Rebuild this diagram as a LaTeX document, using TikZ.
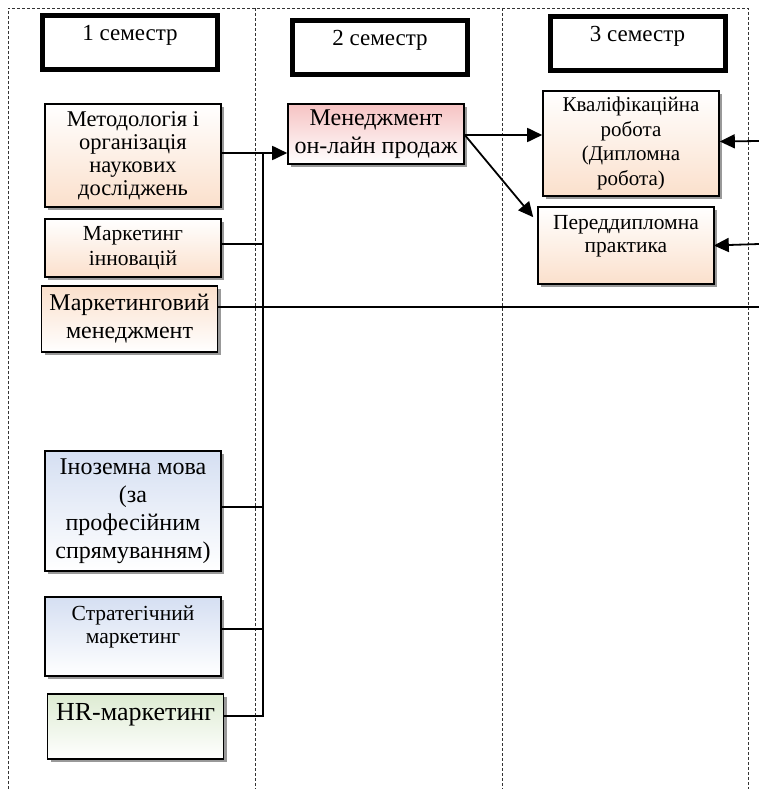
\documentclass[tikz,border=0pt]{standalone}
\usepackage{fontspec}
\setmainfont{Liberation Serif}
\usetikzlibrary{arrows.meta,shadows}
\definecolor{peachc}{HTML}{FBE0CC}
\definecolor{pinkc}{HTML}{F6C3C3}
\definecolor{bluec}{HTML}{D5DFF2}
\definecolor{greenc}{HTML}{DDEBD2}

\begin{document}
\begin{tikzpicture}[x=1pt,y=1pt,
    >={Triangle[length=15pt,width=14pt]},
    sem/.style={draw,line width=5pt,align=center,inner sep=0pt,
      minimum width=175,minimum height=54,font=\fontsize{23}{20}\selectfont},
    subj/.style={draw,line width=1.6pt,align=center,inner sep=0pt,
      minimum width=176,
      drop shadow={shadow xshift=3pt,shadow yshift=-3pt,fill=black!40,opacity=1}},
    txtS/.style={font=\fontsize{21.5}{23.5}\selectfont},
    txtL/.style={font=\fontsize{24}{28}\selectfont},
    peachup/.style={top color=white,bottom color=peachc},
    peachdown/.style={top color=peachc,bottom color=white},
    link/.style={line width=1.8pt},
    grid/.style={densely dashed,line width=0.7pt,black!80}]
  \useasboundingbox (0,0) rectangle (759,-789);

  \draw[grid] (8,-789) -- (8,-8) -- (748,-8) -- (748,-789);
  \foreach \gx in {255,502}
    \draw[grid] (\gx,-8) -- (\gx,-789);

  \node[sem] (s1) at (130,-42.5) {1 семестр\\\mbox{}};
  \node[sem] (s2) at (380,-47.5) {2 семестр\\\mbox{}};
  \node[sem] (s3) at (637.5,-43.5) {3 семестр\\\mbox{}};

  \node[subj,font=\fontsize{22.5}{23}\selectfont,peachup,minimum height=103] (met) at (133,-155.5)
    {Методологія і\\організація\\наукових\\досліджень};
  \node[subj,font=\fontsize{21.5}{25}\selectfont,peachup,minimum height=58] (inn) at (133,-248)
    {Маркетинг\\інновацій};
  \node[subj,txtL,peachdown,minimum height=66] (mm) at (129.5,-319)
    {Маркетинговий\\менеджмент};
  \node[subj,txtL,top color=bluec,bottom color=white,minimum height=120] (lang) at (133,-511)
    {Іноземна мова\\(за\\професійним\\спрямуванням)};
  \node[subj,txtS,top color=bluec,bottom color=white,minimum height=79] (strat) at (133,-636.5)
    {Стратегічний\\маркетинг\\\mbox{}};
  \node[subj,font=\fontsize{26}{30}\selectfont,top color=greenc,bottom color=white,
    minimum height=65] (hr) at (135.5,-726.5) {HR-маркетинг\\\mbox{}};

  \node[subj,txtL,top color=pinkc,bottom color=white,minimum height=60] (onl) at (376,-134)
    {Менеджмент\\он-лайн продаж};
  \node[subj,font=\fontsize{21}{24.5}\selectfont,peachup,minimum height=105] (kval) at (631,-143.5)
    {Кваліфікаційна\\робота\\(Дипломна\\робота)};
  \node[subj,txtS,peachup,minimum height=77] (pred) at (626,-245.5)
    {Переддипломна\\практика\\\mbox{}};

  \coordinate (bt) at (263,-153);
  \coordinate (mmr) at (759,-307);
  \coordinate (kin) at (759,-141);
  \coordinate (pin) at (759,-244);

  \draw[link,->] (met.east |- bt) -- (onl.west |- bt);
  \draw[link] (bt) -- ([yshift=10.5pt]hr.east -| bt) -- ([yshift=10.5pt]hr.east);
  \draw[link] ([yshift=4pt]inn.east) -- ([yshift=4pt]inn.east -| bt);
  \draw[link] ([yshift=4pt]lang.east) -- ([yshift=4pt]lang.east -| bt);
  \draw[link] ([yshift=7.5pt]strat.east) -- ([yshift=7.5pt]strat.east -| bt);
  \draw[link] ([yshift=12pt]mm.east) -- (mmr);

  \draw[link,->] ([yshift=-1pt]onl.east) -- ([yshift=-1pt]onl.east -| kval.west);
  \draw[link,->] ([yshift=-1pt]onl.east) -- ([xshift=-4pt,yshift=-11pt]pred.north west);
  \draw[link,->] (kin) -- ([yshift=2pt]kval.east);
  \draw[link,->] (pin) -- ([xshift=-1pt]pred.east);
\end{tikzpicture}
\end{document}
